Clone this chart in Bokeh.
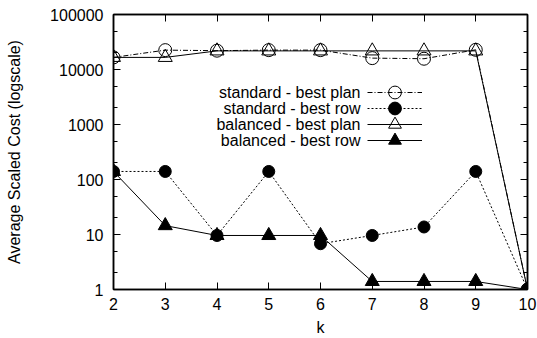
from bokeh.plotting import figure
from bokeh.models import (FixedTicker, LogAxis, LinearAxis, Legend, LegendItem,
                          Label, NumeralTickFormatter)
from bokeh.embed import file_html
from bokeh.resources import INLINE

k = [2, 3, 4, 5, 6, 7, 8, 9, 10]
std_plan = [16600, 22500, 22000, 22500, 22500, 16100, 15700, 22800, 1]
std_row = [140, 140, 9.6, 140, 6.8, 9.6, 13.7, 140, 1]
bal_plan = [16600, 16600, 21800, 21800, 21800, 21800, 21800, 21800, 1]
bal_row = [140, 14.5, 9.6, 9.6, 9.6, 1.4, 1.4, 1.4, 1]

series_names = ["standard - best plan", "standard - best row",
                "balanced - best plan", "balanced - best row"]
y_major = [1, 10, 100, 1000, 10000, 100000]
y_minor = [2, 5, 20, 50, 200, 500, 2000, 5000, 20000, 50000]
x_label = "k"
y_label = "Average Scaled Cost (logscale)"

FONT = "Liberation Sans"

p = figure(width=537, height=338, y_axis_type="log",
           x_range=(2, 10), y_range=(1, 100000),
           output_backend="svg", toolbar_location=None,
           min_border_left=113, min_border_right=10,
           min_border_top=14, min_border_bottom=47)
p.xgrid.visible = False
p.ygrid.visible = False
p.outline_line_color = "black"
p.outline_line_width = 1.5
p.background_fill_color = "white"
p.border_fill_color = "white"

r1l = p.line(k, std_plan, line_color="black", line_width=1, line_dash="5 2 1 2")
r1m = p.scatter(k, std_plan, marker="circle", size=13, fill_color=None,
                line_color="black", line_width=1)
r2l = p.line(k, std_row, line_color="black", line_width=1, line_dash="2 2")
r2m = p.scatter(k, std_row, marker="circle", size=12, fill_color="black",
                line_color="black", line_width=1)
r3l = p.line(k, bal_plan, line_color="black", line_width=1)
r3m = p.scatter(k, bal_plan, marker="triangle", size=14, fill_color=None,
                line_color="black", line_width=1)
r4l = p.line(k, bal_row, line_color="black", line_width=1)
r4m = p.scatter(k, bal_row, marker="triangle", size=14, fill_color="black",
                line_color="black", line_width=1)

xt = FixedTicker(ticks=k, minor_ticks=[])
yt = FixedTicker(ticks=y_major, minor_ticks=y_minor)


def style(ax, labels=True):
    ax.axis_line_color = "black"
    ax.axis_line_width = 1.5
    ax.major_tick_in = 7
    ax.major_tick_out = 0
    ax.minor_tick_in = 4
    ax.minor_tick_out = 0
    ax.major_tick_line_color = "black"
    ax.minor_tick_line_color = "black"
    if labels:
        ax.major_label_text_font = FONT
        ax.major_label_text_font_size = "16px"
        ax.major_label_text_color = "black"
        ax.axis_label_text_font = FONT
        ax.axis_label_text_font_size = "16px"
        ax.axis_label_text_font_style = "normal"
        ax.axis_label_text_color = "black"
    else:
        ax.major_label_text_font_size = "1px"
        ax.major_label_text_color = None
        ax.major_label_standoff = 0


xa = p.xaxis[0]
xa.ticker = xt
xa.axis_label = x_label
style(xa)
xa.major_label_standoff = 8
xa.axis_label_standoff = 6

ya = p.yaxis[0]
ya.ticker = yt
ya.formatter = NumeralTickFormatter(format="0")
ya.axis_label = y_label
style(ya)
ya.major_label_standoff = 10
ya.axis_label_standoff = 24

ra = LogAxis(ticker=FixedTicker(ticks=y_major, minor_ticks=y_minor))
style(ra, labels=False)
p.add_layout(ra, "right")
ta = LinearAxis(ticker=FixedTicker(ticks=k, minor_ticks=[]))
style(ta, labels=False)
p.add_layout(ta, "above")

# legend samples (glyph only), one legend per row; text to the left
renderer_pairs = [[r1l, r1m], [r2l, r2m], [r3l, r3m], [r4l, r4m]]
for i, rs in enumerate(renderer_pairs):
    leg = Legend(items=[LegendItem(label=" ", renderers=rs)],
                 location=(254, 181 - 16 * i), glyph_width=55, glyph_height=32,
                 label_width=0, label_height=32, label_standoff=0, spacing=0,
                 padding=0, margin=0, border_line_color=None,
                 background_fill_alpha=0, label_text_font_size="2px")
    p.add_layout(leg, "center")

for i, name in enumerate(series_names):
    p.add_layout(Label(x=247, y=197 - 16 * i, x_units="screen", y_units="screen",
                       text=name, text_align="right", text_baseline="middle",
                       text_font=FONT, text_font_size="16px", text_color="black"))

open("out.html", "w").write(file_html(p, INLINE))
